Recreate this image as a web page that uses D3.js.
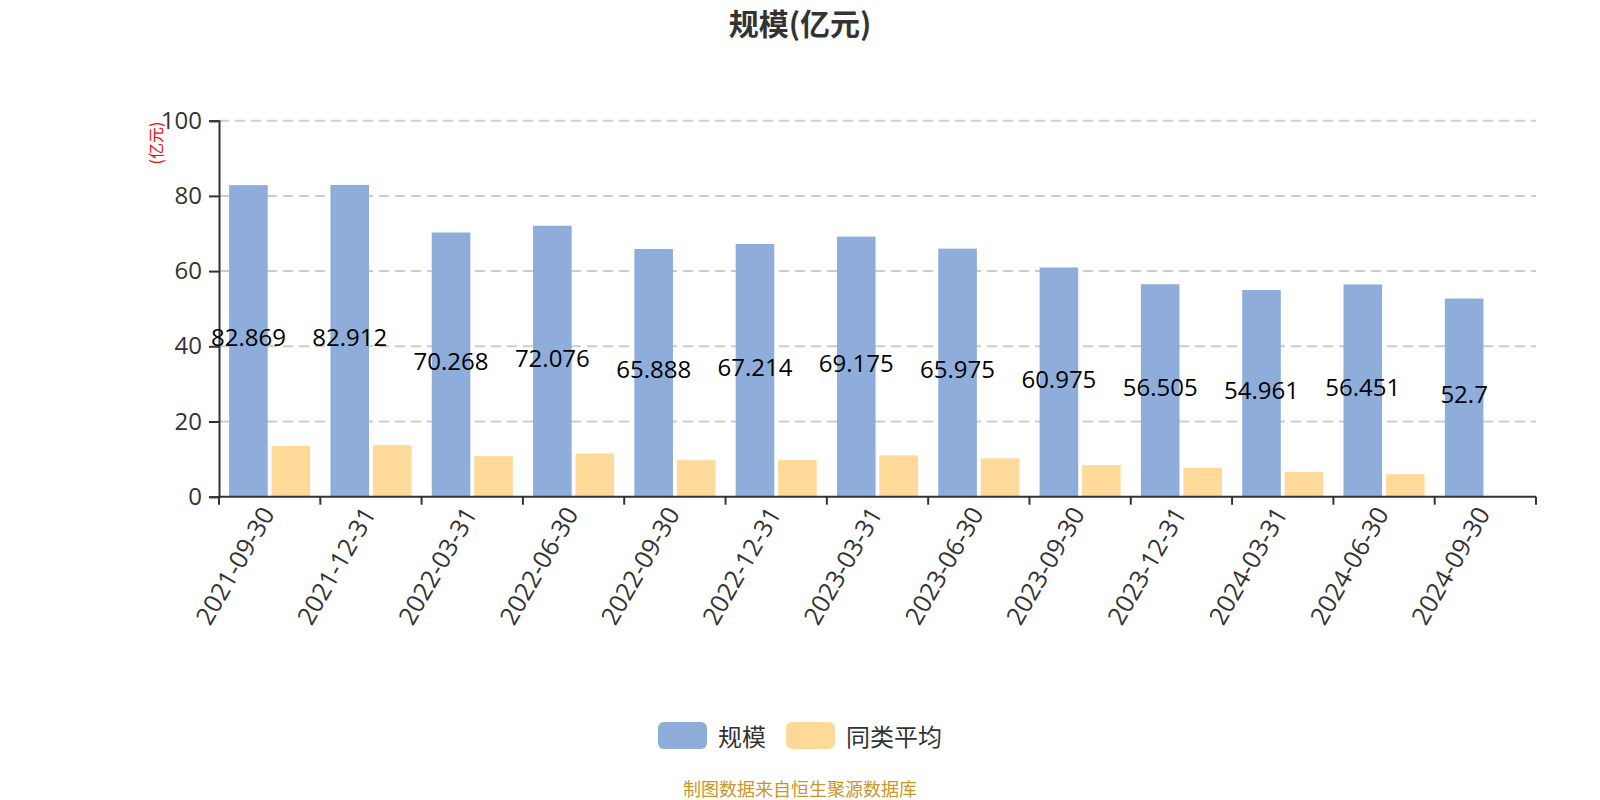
<!DOCTYPE html>
<html>
<head>
<meta charset="utf-8">
<script src="https://cdn.jsdelivr.net/npm/d3@7"></script>
<style>
  html, body { margin: 0; padding: 0; background: #fff; }
  svg { display: block; font-family: "Open Sans", "Noto Sans CJK SC", sans-serif; }
</style>
</head>
<body>
<svg id="chart" width="1600" height="800"></svg>
<script>
const categories = ["2021-09-30","2021-12-31","2022-03-31","2022-06-30","2022-09-30","2022-12-31","2023-03-31","2023-06-30","2023-09-30","2023-12-31","2024-03-31","2024-06-30","2024-09-30"];
const scaleValues = [82.869, 82.912, 70.268, 72.076, 65.888, 67.214, 69.175, 65.975, 60.975, 56.505, 54.961, 56.451, 52.7];
const avgValues = [13.5, 13.7, 10.8, 11.5, 9.7, 9.75, 11.0, 10.2, 8.4, 7.7, 6.6, 6.0, null];
const yTicks = [0, 20, 40, 60, 80, 100];
const seriesNames = ["规模", "同类平均"];
const seriesColors = ["#8eaddb", "#ffd999"];
const titleText = "规模(亿元)";
const yAxisName = "(亿元)";
const footerText = "制图数据来自恒生聚源数据库";

const svg = d3.select("#chart");
const plotLeft = 219, plotRight = 1536, plotTop = 120.7, plotBottom = 496.7;

const x = d3.scaleBand().domain(categories).range([plotLeft, plotRight]).paddingInner(0).paddingOuter(0);
const y = d3.scaleLinear().domain([0, 100]).range([plotBottom, plotTop]);

const bw = x.bandwidth();
const barW = bw * 0.8 / 2.1;
const off0 = bw * 0.1;
const off1 = off0 + barW * 1.1;

// title
svg.append("text").attr("x", 800).attr("y", 22).attr("text-anchor", "middle")
  .attr("dominant-baseline", "central")
  .style("font-size", "30px").style("font-weight", "bold").style("fill", "#333")
  .style("font-family", "'Noto Sans CJK SC', sans-serif")
  .text(titleText);

// grid lines
svg.append("g").selectAll("line").data(yTicks.filter(d => d !== 0)).join("line")
  .attr("x1", plotLeft).attr("x2", plotRight)
  .attr("y1", d => y(d)).attr("y2", d => y(d))
  .attr("stroke", "#ccc").attr("stroke-width", 2).attr("stroke-dasharray", "10,6");

// bars
const gBars = svg.append("g");
gBars.selectAll("rect.s0").data(categories.map((c, i) => ({c, v: scaleValues[i]}))).join("rect")
  .attr("class", "s0")
  .attr("x", d => x(d.c) + off0).attr("width", barW)
  .attr("y", d => y(d.v)).attr("height", d => y(0) - y(d.v))
  .attr("fill", seriesColors[0]);
gBars.selectAll("rect.s1").data(categories.map((c, i) => ({c, v: avgValues[i]})).filter(d => d.v != null)).join("rect")
  .attr("class", "s1")
  .attr("x", d => x(d.c) + off1).attr("width", barW)
  .attr("y", d => y(d.v)).attr("height", d => y(0) - y(d.v))
  .attr("fill", seriesColors[1]);

// y axis
const yAxis = d3.axisLeft(y).tickValues(yTicks).tickSize(10).tickPadding(7);
const gy = svg.append("g").attr("transform", `translate(${plotLeft},0)`).call(yAxis);
gy.select(".domain").attr("stroke", "#333").attr("stroke-width", 2);
gy.selectAll(".tick line").attr("stroke", "#333").attr("stroke-width", 2);
gy.selectAll(".tick text").style("font-size", "24px").style("fill", "#333")
  .style("font-family", "'Open Sans', sans-serif");

// y axis name
svg.append("text").attr("transform", "translate(155,143) rotate(-90)")
  .attr("text-anchor", "middle").attr("dominant-baseline", "central")
  .style("font-size", "16px").style("fill", "red")
  .style("font-family", "'Noto Sans CJK SC', sans-serif")
  .text(yAxisName);

// x axis
const gx = svg.append("g").attr("transform", `translate(0,${plotBottom})`);
gx.append("line").attr("x1", plotLeft).attr("x2", plotRight).attr("y1", 0).attr("y2", 0)
  .attr("stroke", "#333").attr("stroke-width", 2);
const boundaries = categories.map(c => x(c)).concat([plotRight]);
gx.selectAll("line.tk").data(boundaries).join("line").attr("class", "tk")
  .attr("x1", d => d).attr("x2", d => d).attr("y1", 0).attr("y2", 8)
  .attr("stroke", "#333").attr("stroke-width", 2);
gx.selectAll("text").data(categories).join("text")
  .attr("transform", d => `translate(${x(d) + bw / 2 - 3},12) rotate(-60)`)
  .attr("text-anchor", "end").attr("dominant-baseline", "central")
  .style("font-size", "25px").style("fill", "#333")
  .style("font-family", "'Open Sans', sans-serif")
  .text(d => d);

// value labels
svg.append("g").selectAll("text").data(categories.map((c, i) => ({c, v: scaleValues[i]}))).join("text")
  .attr("x", d => x(d.c) + off0 + barW / 2)
  .attr("y", d => (y(d.v) + y(0)) / 2 - 4)
  .attr("text-anchor", "middle").attr("dominant-baseline", "central")
  .style("font-size", "24px").style("fill", "#000")
  .style("font-family", "'Open Sans', sans-serif")
  .text(d => String(d.v));

// legend
const legend = svg.append("g");
const legendItems = [{name: seriesNames[0], color: seriesColors[0], x: 658}, {name: seriesNames[1], color: seriesColors[1], x: 786}];
legendItems.forEach(it => {
  legend.append("rect").attr("x", it.x).attr("y", 722).attr("width", 49).attr("height", 27)
    .attr("rx", 6).attr("fill", it.color);
  legend.append("text").attr("x", it.x + 60).attr("y", 735.5).attr("dominant-baseline", "central")
    .style("font-size", "24px").style("fill", "#333")
    .style("font-family", "'Noto Sans CJK SC', sans-serif")
    .text(it.name);
});

// footer
svg.append("text").attr("x", 800).attr("y", 788).attr("text-anchor", "middle")
  .attr("dominant-baseline", "central")
  .style("font-size", "18px").style("fill", "#c9962c")
  .style("font-family", "'Noto Sans CJK SC', sans-serif")
  .text(footerText);
</script>
</body>
</html>
